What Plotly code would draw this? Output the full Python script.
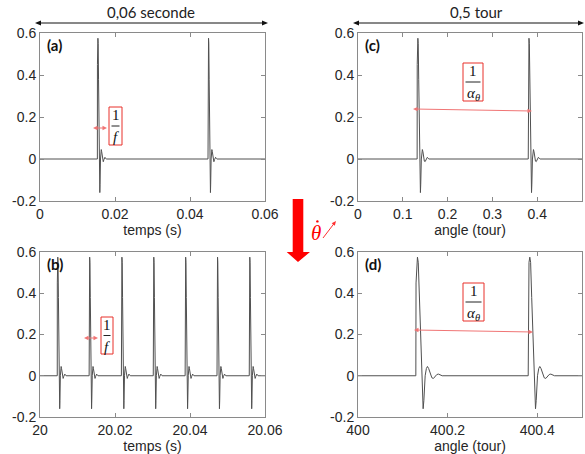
import math
import numpy as np
import plotly.graph_objects as go

W, H = 585, 454

# ---- data ----
# pulse shape (offset from pulse start, in "tour" units of panel d) and amplitude
pulse_offsets = [0, 0.00045, 0.0018, 0.0036, 0.0054, 0.0078, 0.0105, 0.0130, 0.0148,
                 0.0163, 0.0179, 0.0208, 0.0235, 0.0259, 0.0286, 0.0324, 0.0358,
                 0.0393, 0.0436, 0.0469, 0.0505, 0.0548, 0.0588]
pulse_values = [0, 0.45, 0.55, 0.575, 0.55, 0.38, 0.17, 0.0, -0.12,
                -0.16, -0.12, 0.0, 0.035, 0.045, 0.035, 0.005, -0.01,
                -0.013, -0.003, 0.006, 0.008, 0.003, 0]

pulse_times_a = [0.0153, 0.0448]                        # s
pulse_times_b = [20.0046, 20.0131, 20.0217, 20.0302,
                 20.0387, 20.0472, 20.0558]             # s
pulse_angles_c = [0.1320, 0.3800]                       # tour
pulse_angles_d = [400.1291, 400.3799]                   # tour

width_scale_a = 0.04
width_scale_b = 0.04
width_scale_c = 0.45
width_scale_d = 1.0

xrange_a = [0, 0.06]
xrange_b = [20, 20.06]
xrange_c = [0, 0.5]
xrange_d = [400, 400.5]
yrange = [-0.2, 0.6]

xticks_a = [0, 0.02, 0.04, 0.06]
xticklabels_a = ["0", "0.02", "0.04", "0.06"]
xticks_b = [20, 20.02, 20.04, 20.06]
xticklabels_b = ["20", "20.02", "20.04", "20.06"]
xticks_c = [0, 0.1, 0.2, 0.3, 0.4]
xticklabels_c = ["0", "0.1", "0.2", "0.3", "0.4"]
xticks_d = [400, 400.2, 400.4]
xticklabels_d = ["400", "400.2", "400.4"]
yticks = [-0.2, 0, 0.2, 0.4, 0.6]
yticklabels = ["-0.2", "0", "0.2", "0.4", "0.6"]


def build(events, scale, xr):
    xs = [xr[0]]
    ys = [0.0]
    offs = np.array(pulse_offsets) * scale
    for e in events:
        xs.extend(list(e + offs))
        ys.extend(pulse_values)
    xs.append(xr[1])
    ys.append(0.0)
    return xs, ys


def px(x):
    return x / W


def py(y):
    return 1 - y / H


LINE = dict(color="#505050", width=1.0)
fig = go.Figure()
for (ev, sc, xr, ax) in [(pulse_times_a, width_scale_a, xrange_a, "1"),
                         (pulse_times_b, width_scale_b, xrange_b, "2"),
                         (pulse_angles_c, width_scale_c, xrange_c, "3"),
                         (pulse_angles_d, width_scale_d, xrange_d, "4")]:
    xs, ys = build(ev, sc, xr)
    fig.add_trace(go.Scatter(x=xs, y=ys, mode="lines", line=LINE, showlegend=False,
                             hoverinfo="skip",
                             xaxis="x" if ax == "1" else "x" + ax,
                             yaxis="y" if ax == "1" else "y" + ax))

TICKFONT = dict(family="Liberation Sans, Arial", size=14, color="#262626")
AXCOL = "#8a8a8a"


def xax(dom, rng, tv, tt, title, anchor):
    return dict(domain=dom, range=rng, tickvals=tv, ticktext=tt, showline=True,
                linecolor=AXCOL, linewidth=1, mirror="ticks", ticks="inside",
                ticklen=4, tickcolor=AXCOL, showgrid=False, zeroline=False,
                tickfont=TICKFONT, anchor=anchor, fixedrange=True, automargin=False,
                title=dict(text=title, font=TICKFONT, standoff=0))


def yax(dom, anchor):
    return dict(domain=dom, range=yrange, tickvals=yticks, ticktext=yticklabels,
                showline=True, linecolor=AXCOL, linewidth=1, mirror="ticks",
                ticks="inside", ticklen=4, tickcolor=AXCOL, showgrid=False,
                zeroline=False, tickfont=TICKFONT, anchor=anchor, fixedrange=True,
                automargin=False)


left_dom = [px(40), px(265)]
right_dom = [px(358), px(582)]
top_dom = [py(201), py(33)]
bot_dom = [py(417), py(252)]

fig.update_layout(
    width=W, height=H, margin=dict(l=0, r=0, t=0, b=0, autoexpand=False),
    paper_bgcolor="white", plot_bgcolor="white",
    xaxis=xax(left_dom, xrange_a, xticks_a, xticklabels_a, "temps (s)", "y"),
    yaxis=yax(top_dom, "x"),
    xaxis2=xax(left_dom, xrange_b, xticks_b, xticklabels_b, "temps (s)", "y2"),
    yaxis2=yax(bot_dom, "x2"),
    xaxis3=xax(right_dom, xrange_c, xticks_c, xticklabels_c, "angle (tour)", "y3"),
    yaxis3=yax(top_dom, "x3"),
    xaxis4=xax(right_dom, xrange_d, xticks_d, xticklabels_d, "angle (tour)", "y4"),
    yaxis4=yax(bot_dom, "x4"),
)

ann = []
shapes = []


def poly(pts, color):
    path = "M " + " L ".join("%.5f,%.5f" % (px(x), py(y)) for x, y in pts) + " Z"
    return dict(type="path", path=path, xref="paper", yref="paper",
                fillcolor=color, line=dict(color=color, width=0), layer="above")


def arrow(x0, y0, x1, y1, color, hl=6.0, hw=2.6, both=True, width=1):
    dx, dy = x1 - x0, y1 - y0
    L = math.hypot(dx, dy)
    ux, uy = dx / L, dy / L
    nx, ny = -uy, ux
    sx0 = x0 + ux * hl * 0.8 if both else x0
    sx1 = x1 - ux * hl * 0.8
    sy0 = y0 + uy * hl * 0.8 if both else y0
    sy1 = y1 - uy * hl * 0.8
    shapes.append(dict(type="line", xref="paper", yref="paper",
                       x0=px(sx0), y0=py(sy0), x1=px(sx1), y1=py(sy1),
                       line=dict(color=color, width=width), layer="above"))
    bx, by = x1 - ux * hl, y1 - uy * hl
    shapes.append(poly([(x1, y1), (bx + nx * hw, by + ny * hw),
                        (bx - nx * hw, by - ny * hw)], color))
    if both:
        bx, by = x0 + ux * hl, y0 + uy * hl
        shapes.append(poly([(x0, y0), (bx + nx * hw, by + ny * hw),
                            (bx - nx * hw, by - ny * hw)], color))


LABFONT = dict(family="Lato, Open Sans, sans-serif", size=15, color="#111111")

# panel labels
for lab, x, y in [("(a)", 45, 45), ("(b)", 45, 264), ("(c)", 363, 45), ("(d)", 363, 264)]:
    ann.append(dict(text="<b>%s</b>" % lab, x=px(x), y=py(y), xref="paper", yref="paper",
                    xanchor="left", yanchor="middle", showarrow=False, font=LABFONT))

# top span texts and arrows
for txt, cx, x0, x1 in [("0,06 seconde", 151, 35, 268), ("0,5 tour", 476, 353, 584)]:
    ann.append(dict(text=txt, x=px(cx), y=py(12), xref="paper", yref="paper",
                    xanchor="center", yanchor="middle", showarrow=False,
                    font=dict(family="Lato, Open Sans, sans-serif", size=15,
                              color="#222222")))
    arrow(x0, 23, x1, 23, "#111111", hl=6, hw=2.5, both=True, width=1)

# red double arrows (1/f and 1/alpha)
RED = "#e8302a"
PINK = "#f07575"
for (x0, y0, x1, y1) in [(93, 128, 107, 128), (84, 338, 98, 338),
                         (413, 109, 532, 111), (414, 330, 533, 332)]:
    arrow(x0, y0, x1, y1, PINK, hl=4.5, hw=2.2, both=True, width=1)

# fraction boxes
SERIF = dict(family="Liberation Serif, DejaVu Serif, serif", size=15, color="#111111")
for (bx0, by0, bx1, by1, denom) in [(109, 107, 122, 145, "<i>f</i>"),
                                    (101, 317, 113, 354, "<i>f</i>"),
                                    (463, 63, 483, 101, "<i>α</i><sub><i>θ</i></sub>"),
                                    (463, 283, 484, 321, "<i>α</i><sub><i>θ</i></sub>")]:
    shapes.append(dict(type="rect", xref="paper", yref="paper",
                       x0=px(bx0), x1=px(bx1), y0=py(by1), y1=py(by0),
                       line=dict(color=RED, width=1), fillcolor="white", layer="above"))
    mid = (by0 + by1) / 2
    cx = (bx0 + bx1) / 2
    shapes.append(dict(type="line", xref="paper", yref="paper",
                       x0=px(bx0 + 2.5), x1=px(bx1 - 2.5), y0=py(mid), y1=py(mid),
                       line=dict(color="#222222", width=1), layer="above"))
    ann.append(dict(text="1", x=px(cx), y=py(mid - 1), xref="paper", yref="paper",
                    xanchor="center", yanchor="bottom", showarrow=False, font=SERIF))
    ann.append(dict(text=denom, x=px(cx), y=py(mid + 1), xref="paper", yref="paper",
                    xanchor="center", yanchor="top", showarrow=False, font=SERIF))

# big red arrow between columns
shapes.append(poly([(292.7, 199), (303.3, 199), (303.3, 252), (310, 252), (298, 262),
                    (286.7, 252), (292.7, 252)], "#ff0000"))

# theta-dot and small arrow
ann.append(dict(text="<i>θ</i>", x=px(316), y=py(233), xref="paper", yref="paper",
                xanchor="center", yanchor="middle", showarrow=False,
                font=dict(family="Liberation Serif, DejaVu Serif, serif",
                          size=21, color="#ff0000")))
shapes.append(dict(type="circle", xref="paper", yref="paper",
                   x0=px(316.2), x1=px(318.6), y0=py(222.6), y1=py(220.2),
                   fillcolor="#ff0000", line=dict(width=0)))
arrow(323, 238, 336, 221, "#ff3030", hl=4.5, hw=2.0, both=False, width=1)

fig.update_layout(annotations=ann, shapes=shapes)
fig.write_html("out.html", config={"displayModeBar": False},
               post_script="document.body.style.margin='0';document.body.style.overflow='hidden';")
